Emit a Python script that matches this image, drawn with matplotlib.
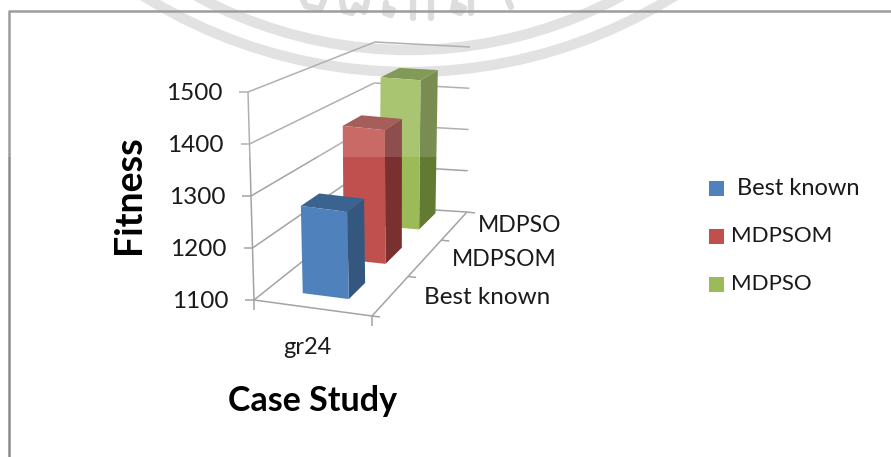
import matplotlib
matplotlib.use("Agg")
import matplotlib.pyplot as plt
from matplotlib.patches import Polygon, Rectangle, Arc

plt.rcParams["font.family"] = ["Lato", "DejaVu Sans"]

# Chart values
categories = ["gr24"]
series_names = ["Best known", "MDPSOM", "MDPSO"]
series_values = [1272, 1385, 1445]
value_ticks = [1100, 1200, 1300, 1400, 1500]
axis_min, axis_max = 1100, 1500

# Face colours per series: front, top, side
front_colors = ["#4F81BD", "#C0504D", "#9BBB59"]
top_colors = ["#3B6390", "#97433F", "#6C8A3A"]
side_colors = ["#34577F", "#7A302E", "#637A33"]
legend_colors = front_colors

GRID = "#A3A3A3"
INK = "#1A1A1A"

# Box corners in figure pixels, keyed by (across, depth, up)
BOX = {
    (0, 0, 0): (254, 300), (1, 0, 0): (372, 316),
    (0, 1, 0): (372, 206), (1, 1, 0): (467, 212),
    (0, 0, 1): (248, 92),  (1, 0, 1): (368, 108),
    (0, 1, 1): (375, 42),  (1, 1, 1): (470, 47),
}


def project(u, v, value):
    """Map across/depth/value to figure pixels by trilinear blending."""
    w = (value - axis_min) / (axis_max - axis_min)
    x = y = 0.0
    for (a, b, c), (px, py) in BOX.items():
        k = (u if a else 1 - u) * (v if b else 1 - v) * (w if c else 1 - w)
        x += k * px
        y += k * py
    return x, y


fig = plt.figure(figsize=(8.91, 4.57), dpi=100)
ax = fig.add_axes([0, 0, 1, 1])
ax.set_xlim(0, 891)
ax.set_ylim(457, 0)
ax.axis("off")


def seg(p, q, color=GRID, lw=1.1, z=3):
    ax.plot([p[0], q[0]], [p[1], q[1]], color=color, lw=lw, zorder=z,
            solid_capstyle="butt")


# Faint circular seal behind the chart
WM = "#DEDEDE"
for cy, r in ((-430, 502), (-395, 445)):
    ax.add_patch(Arc((409, cy), 2 * r, 2 * r, theta1=0, theta2=180,
                     color=WM, lw=7.5, zorder=1))
for strokes in (
    [(303, 0), (306, 6), (320, 9), (324, 0)],
    [(342, 1), (344, 11), (352, 13), (356, 5), (364, 12), (367, 1)],
    [(386, 3), (385, 13), (391, 15), (393, 10), (387, 8)],
    [(413, 0), (413, 18)], [(431, 0), (431, 18)],
    [(455, 0), (453, 10), (460, 13), (464, 8), (458, 5)], [(471, 0), (471, 13)],
    [(508, 0), (511, 7)],
):
    ax.plot(*zip(*strokes), color="#D8D8D8", lw=4.5, zorder=1,
            solid_capstyle="round", solid_joinstyle="round")

# Chart area border, running off the right and bottom edges
ax.plot([8.5, 8.5, 900], [470, 11, 11], color="#8C8C8C", lw=1.8, zorder=2)

# Walls and floor
for t in value_ticks:
    seg(project(0, 0, t), project(0, 1, t))
    seg(project(0, 1, t), project(1, 1, t))
    lx, ly = project(0, 0, t)
    seg((lx - 9, ly), (lx, ly))
seg(project(0, 0, axis_min), project(0, 0, axis_max))
seg(project(0, 0, axis_min), project(1, 0, axis_min))
seg(project(1, 0, axis_min), project(1, 1, axis_min))
for u in (0, 1):
    x, y = project(u, 0, axis_min)
    seg((x, y), (x, y + 10))
for v in (0, 0.38, 0.73, 1):
    x, y = project(1, v, axis_min)
    seg((x, y), (x + 8, y + 1))

# Bars, painted from the back of the floor forward
bar_front = [0.12, 0.47, 0.81]
bar_depth = 0.16
bar_left = [0.30, 0.32, 0.30]
bar_right = [0.70, 0.71, 0.70]
for i in reversed(range(len(series_values))):
    u0, u1 = bar_left[i], bar_right[i]
    v0, v1 = bar_front[i], bar_front[i] + bar_depth
    val = series_values[i]
    a, b = project(u0, v0, axis_min), project(u1, v0, axis_min)
    c, d = project(u1, v0, val), project(u0, v0, val)
    e, f = project(u1, v1, axis_min), project(u1, v1, val)
    g = project(u0, v1, val)
    ax.add_patch(Polygon([b, e, f, c], fc=side_colors[i], ec="none", zorder=4))
    ax.add_patch(Polygon([d, c, f, g], fc=top_colors[i], ec="none", zorder=4))
    ax.add_patch(Polygon([a, b, c, d], fc=front_colors[i], ec="none", zorder=4))

# Pale sheet over the upper part of the plot
ax.add_patch(Rectangle((0, 0), 891, 157, fc="white", ec="none", alpha=0.15, zorder=5))

# Axis text
for t in value_ticks:
    x, y = project(0, 0, t)
    ax.text(x - 25.5, y + 1.5, str(t), ha="right", va="center", fontsize=17.5,
            color=INK, zorder=6)
ax.text(307, 348, categories[0], ha="center", va="center", fontsize=17,
        color=INK, zorder=6)
for name, x, y, fs in zip(series_names, (487.5, 504.5, 519.5), (297, 260, 226), (17.5, 16.5, 16.5)):
    ax.text(x, y, name, ha="center", va="center", fontsize=fs, color=INK, zorder=6)

ax.text(129, 195, "Fitness", rotation=90, ha="center", va="center",
        fontsize=27, fontweight="bold", color="black", zorder=6)
ax.text(312, 401, "Case Study", ha="center", va="center",
        fontsize=24.5, fontweight="bold", color="black", zorder=6)

# Legend
for name, color, y, tx, fs in zip(series_names, legend_colors, (181, 229, 277),
                                  (737, 731, 731), (17, 16, 16)):
    ax.add_patch(Rectangle((709, y), 15, 15, fc=color, ec="none", zorder=6))
    ax.text(tx, y + 7.5, name, ha="left", va="center", fontsize=fs, color=INK, zorder=6)

fig.savefig("out.png", dpi=100)
